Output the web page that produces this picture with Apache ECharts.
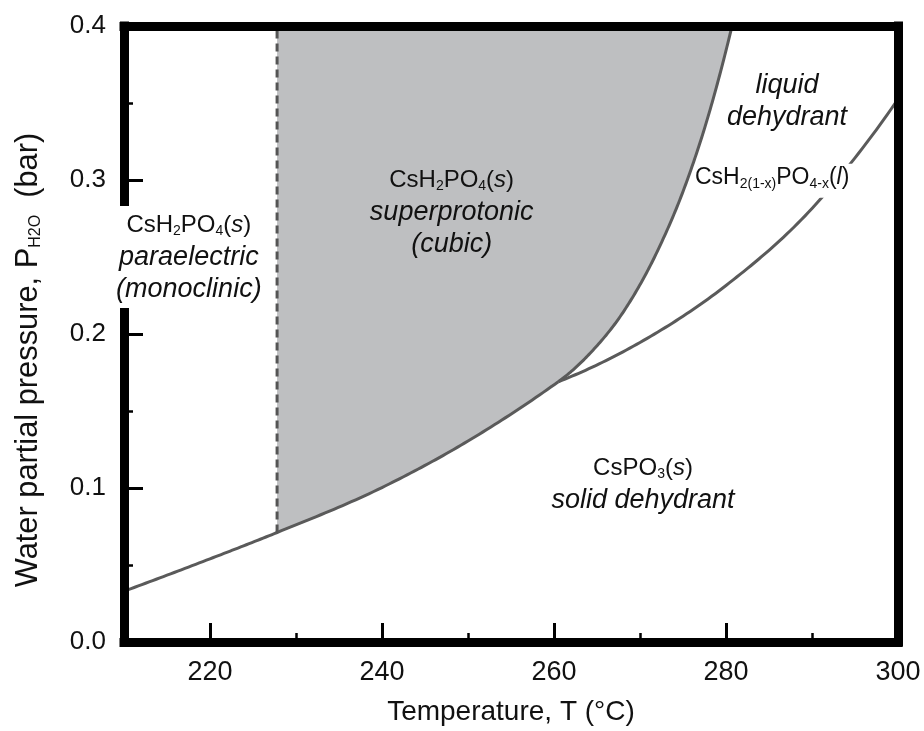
<!DOCTYPE html>
<html><head><meta charset="utf-8">
<script src="https://cdn.jsdelivr.net/npm/echarts@6/dist/echarts.min.js"></script>
<style>html,body{margin:0;padding:0;background:#fff}#c{width:924px;height:731px}</style>
</head><body><div id="c"></div>
<script>
// axis ranges and ticks
const xMin = 210, xMax = 300, yMin = 0, yMax = 0.4;
const xMajorTicks = [220, 240, 260, 280];
const xMinorTicks = [230, 250, 270, 290];
const xTickLabels = [220, 240, 260, 280, 300];
const yMajorTicks = [0.1, 0.2, 0.3];
const yMinorTicks = [0.05, 0.15, 0.25, 0.35];
const yTickLabels = [0, 0.1, 0.2, 0.3, 0.4];

// CsH2PO4(s) -> CsPO3(s) dehydration boundary (left of triple point)
const lowerLeftT = [210, 220, 227.8, 240, 250, 260.5];
const lowerLeftP = [0.033, 0.054, 0.0711, 0.1003, 0.1305, 0.169];
// liquid -> CsPO3(s) boundary (right of triple point)
const lowerRightT = [260.5, 270, 280, 290, 300];
const lowerRightP = [0.169, 0.1945, 0.2315, 0.2815, 0.3525];
// superprotonic -> liquid boundary
const upperT = [260.5, 264.2, 268.2, 272, 275.3, 277.8, 280.7];
const upperP = [0.169, 0.1875, 0.2155, 0.2535, 0.297, 0.339, 0.4];
// paraelectric -> superprotonic transition (dashed)
const transitionT = [227.8, 227.8];
const transitionP = [0.0711, 0.4];

// region labels
const labelT = [217.6, 248.1, 287.1, 285.6, 270.35];
const labelP = [0.25, 0.279, 0.3507, 0.2995, 0.1024];
const labelText = [
  '{n|CsH}{s|2}{n|PO}{s|4}{n|(}{ni|s}{n|)}\n{i|paraelectric}\n{i|(monoclinic)}',
  '{n|CsH}{s|2}{n|PO}{s|4}{n|(}{ni|s}{n|)}\n{i|superprotonic}\n{i|(cubic)}',
  '{i|liquid}\n{i|dehydrant}',
  '{m|CsH}{s2|2(1-x)}{m|PO}{s2|4-x}{m|(}{mi|l}{m|)}',
  '{n|CsPO}{s|3}{n|(}{ni|s}{n|)}\n{i|solid dehydrant}'
];
const labelBg = [true, false, false, true, false];
const labelPad = [[3, 2, 3, 1], 0, 0, [0, 4, 6, 0], 0];

const FONT = '"Liberation Sans", Arial, Helvetica, sans-serif';
const TXT = '#111';
const LINE = '#5a5a5a';
const FILL = '#bebfc1';

function zip(t, p) { return t.map((v, i) => [v, p[i]]); }

// smooth cubic (Hermite) curve through pixel points, x increasing
function smoothPixels(pts) {
  const n = pts.length;
  if (n < 3) return pts.slice();
  const h = [], d = [];
  for (let k = 0; k < n - 1; k++) {
    h.push(pts[k + 1][0] - pts[k][0]);
    d.push((pts[k + 1][1] - pts[k][1]) / h[k]);
  }
  const m = new Array(n);
  for (let k = 1; k < n - 1; k++) {
    m[k] = (h[k] * d[k - 1] + h[k - 1] * d[k]) / (h[k - 1] + h[k]);
  }
  m[0] = 2 * d[0] - m[1];
  m[n - 1] = 2 * d[n - 2] - m[n - 2];
  if (m[0] * d[0] < 0) m[0] = 0;
  if (m[n - 1] * d[n - 2] < 0) m[n - 1] = 0;
  const out = [pts[0].slice()];
  const steps = 24;
  for (let k = 0; k < n - 1; k++) {
    const x0 = pts[k][0], y0 = pts[k][1], y1 = pts[k + 1][1], hk = h[k];
    for (let s = 1; s <= steps; s++) {
      const t = s / steps, t2 = t * t, t3 = t2 * t;
      const y = (2 * t3 - 3 * t2 + 1) * y0 + (t3 - 2 * t2 + t) * hk * m[k]
              + (-2 * t3 + 3 * t2) * y1 + (t3 - t2) * hk * m[k + 1];
      out.push([x0 + t * hk, y]);
    }
  }
  return out;
}

function renderPhases(params, api) {
  const toPx = (t, p) => api.coord([t, p]);
  const ll = smoothPixels(lowerLeftT.map((t, i) => toPx(t, lowerLeftP[i])));
  const lr = smoothPixels(lowerRightT.map((t, i) => toPx(t, lowerRightP[i])));
  const up = smoothPixels(upperT.map((t, i) => toPx(t, upperP[i])));
  const xTrans = toPx(transitionT[0], 0)[0];
  const fillPts = ll.filter(pt => pt[0] >= xTrans - 0.01)
    .concat(up.slice(1))
    .concat([toPx(upperT[upperT.length - 1], yMax), toPx(transitionT[0], yMax)]);
  const stroke = {stroke: LINE, lineWidth: 3, fill: null, lineJoin: 'round'};
  return {
    type: 'group',
    children: [
      {type: 'polygon', shape: {points: fillPts}, style: {fill: FILL}},
      {type: 'polyline', shape: {points: ll}, style: stroke},
      {type: 'polyline', shape: {points: lr}, style: stroke},
      {type: 'polyline', shape: {points: up}, style: stroke}
    ]
  };
}

const rich = {
  n: {fontSize: 24, fontFamily: FONT, color: TXT, lineHeight: 32},
  ni: {fontSize: 24, fontFamily: FONT, fontStyle: 'italic', color: TXT, lineHeight: 32},
  m: {fontSize: 23, fontFamily: FONT, color: TXT, lineHeight: 28},
  mi: {fontSize: 23, fontFamily: FONT, fontStyle: 'italic', color: TXT, lineHeight: 28},
  i: {fontSize: 27, fontFamily: FONT, fontStyle: 'italic', color: TXT, lineHeight: 32},
  s: {fontSize: 14, fontFamily: FONT, color: TXT, lineHeight: 32, padding: [12, 0, 0, 0]},
  s2: {fontSize: 14, fontFamily: FONT, color: TXT, lineHeight: 28, padding: [12, 0, 0, 0]}
};

const borderLine = {show: true, onZero: false, lineStyle: {color: '#000', width: 9, cap: 'square'}};
function frameAxis(pos, min, max) {
  return {type: 'value', position: pos, min: min, max: max, z: 10,
    axisLine: borderLine, axisTick: {show: false}, axisLabel: {show: false}, splitLine: {show: false}};
}
function tickAxis(pos, min, max, ticks, len, w) {
  return {type: 'value', position: pos, min: min, max: max, z: 10,
    axisLine: {show: false, onZero: false},
    axisTick: {show: true, inside: true, length: len, customValues: ticks, lineStyle: {color: '#000', width: w}},
    axisLabel: {show: false}, splitLine: {show: false}};
}

const xMain = {
  type: 'value', position: 'bottom', min: xMin, max: xMax, z: 10,
  axisLine: borderLine,
  axisTick: {show: true, inside: true, length: 19, customValues: xMajorTicks, lineStyle: {color: '#000', width: 3}},
  axisLabel: {show: true, customValues: xTickLabels, fontSize: 27, fontFamily: FONT, color: TXT, margin: 17},
  splitLine: {show: false},
  name: 'Temperature, T (°C)', nameLocation: 'middle', nameGap: 56, nameMoveOverlap: false,
  nameTextStyle: {fontSize: 28, fontFamily: FONT, color: TXT}
};
const yMain = {
  type: 'value', position: 'left', min: yMin, max: yMax, z: 10,
  axisLine: borderLine,
  axisTick: {show: true, inside: true, length: 19, customValues: yMajorTicks, lineStyle: {color: '#000', width: 3}},
  axisLabel: {show: true, customValues: yTickLabels, fontSize: 26, fontFamily: FONT, color: TXT, margin: 18,
    formatter: v => Number(v).toFixed(1)},
  splitLine: {show: false},
  name: 'Water partial pressure, P{sub|H2O}  (bar)', nameLocation: 'middle', nameGap: 80, nameMoveOverlap: false,
  nameTextStyle: {fontSize: 30.8, fontFamily: FONT, color: TXT, padding: [0, 52, 0, 0],
    rich: {sub: {fontSize: 16, fontFamily: FONT, color: TXT, padding: [15, 0, 0, 0]}}}
};

const chart = echarts.init(document.getElementById('c'), null, {renderer: 'canvas'});
chart.setOption({
  animation: false,
  backgroundColor: '#fff',
  grid: {left: 124, right: 26, top: 26, bottom: 88, containLabel: false},
  xAxis: [xMain, tickAxis('bottom', xMin, xMax, xMinorTicks, 9, 2.5), frameAxis('top', xMin, xMax)],
  yAxis: [yMain, tickAxis('left', yMin, yMax, yMinorTicks, 9, 2.5), frameAxis('right', yMin, yMax)],
  series: [
    {type: 'custom', coordinateSystem: 'cartesian2d', z: 2, silent: true, clip: true,
      data: [[xMin, yMin]], renderItem: renderPhases},
    {type: 'line', data: zip(transitionT, transitionP), symbol: 'none', z: 3, silent: true,
      lineStyle: {color: '#555', width: 3, type: [8, 5]}},
    {type: 'scatter', symbolSize: 0, z: 20, silent: true,
      itemStyle: {opacity: 1},
      data: labelT.map((t, i) => ({
        value: [t, labelP[i]],
        label: {show: true, position: [0, 0], align: 'center', verticalAlign: 'middle',
          color: TXT, opacity: 1, textBorderWidth: 0, textBorderColor: 'transparent',
          formatter: labelText[i], rich: rich,
          backgroundColor: labelBg[i] ? '#fff' : 'transparent',
          padding: labelPad[i]}
      }))}
  ]
});
</script></body></html>
